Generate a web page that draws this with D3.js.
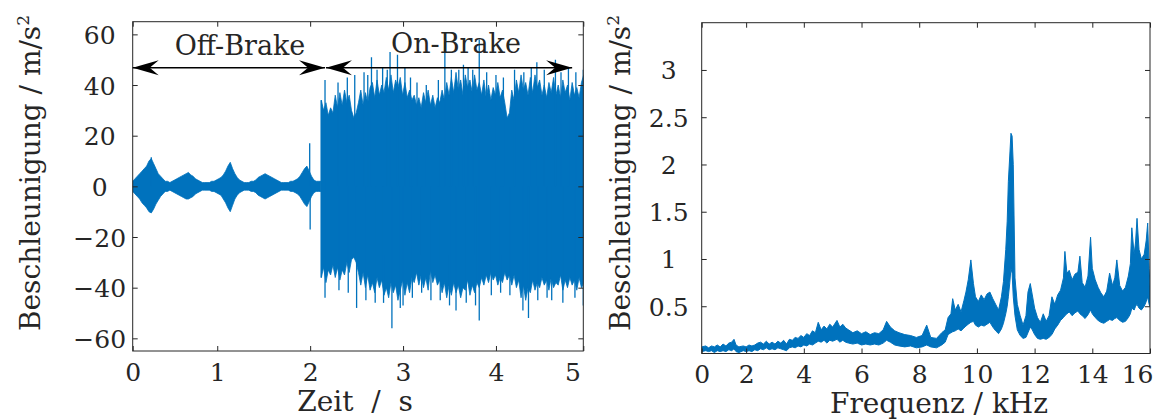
<!DOCTYPE html>
<html>
<head>
<meta charset="utf-8">
<script src="https://cdn.jsdelivr.net/npm/d3@7"></script>
<style>
  html, body { margin: 0; padding: 0; background: #fff; }
  svg { display: block; font-family: "DejaVu Serif", serif; }
</style>
</head>
<body>
<div id="chart"></div>
<script>
// ------- time signal (left) -------
const timeTicks  = [0.09, 1, 2, 3, 4, 4.94];
const accelTicks = [-60, -40, -20, 0, 20, 40, 60];

// off-brake envelope, sampled every 0.025 s from 0.09 s
const offStart = 0.09, offStep = 0.025;
const offHi = [2,3,4,5,6,7,8,10, 11,9,7,5,4,3,2,2, 1.5,2,2.5,3,3.5,4,4.5,5,
  5.5,4.5,4,3,2.5,2,1.5,1.5, 1.5,1.5,2,2,2.5,3,3.5,4.5, 6,8,9.5,7,5,3.5,2.5,2,
  1.5,1.5,1.5,2,2,2.5,3.5,4, 4.5,5,4.5,4,3.5,3,2.5,2, 1.5,1.5,1.5,1.5,2,2,2.5,3,
  4,5.5,7,8,6,4,2.5,2, 2,2];
const offLo = [-2,-3,-4,-5,-6.5,-7.5,-8.5,-10, -10.5,-9,-7,-5.5,-4,-3,-2,-2,
  -1.5,-2,-2.5,-3,-3.5,-4,-4.5,-5, -5,-4.5,-4,-3,-2.5,-2,-1.5,-1.5,
  -1.5,-1.5,-2,-2,-2.5,-3,-3.5,-5, -6.5,-8.5,-10,-7.5,-5,-3.5,-2.5,-2,
  -1.5,-1.5,-1.5,-2,-2,-2.5,-3.5,-4, -4.5,-5,-4.5,-4,-3.5,-3,-2.5,-2,
  -1.5,-1.5,-1.5,-1.5,-2,-2,-2.5,-3, -4,-5.5,-7,-8,-6,-4,-2.5,-2, -2,-2];

// on-brake envelope, sampled every 0.025 s from 2.12 s
const onStart = 2.12, onStep = 0.025;
const onHi = [34,30,33,28,31,29, 36,31,37,32,38,33,36,30, 27,29,33, 38,32,37,33,39,
  41,35,42,36,40,37, 43,38,44,37,42,39, 43,36,41,35,38,34,
  36,32,35,31,37,33,38,32,36,31,35,33, 38,34,41,36,
  43,37,45,38,42,36,44,39,42,37,44,38, 41,36,42,35,40,34,39,36,41,35,38,33,27, 29,
  38,34,42,37,44,38,41,36,43,37,44,39,
  42,36,40,35,41,37,43,36,40,35,42,37,40,34,41,36,39,35,41,44];
const onLo = [-36,-32,-38,-33,-35,-31, -36,-32,-37,-33,-35,-30,-34,-29, -28,-30,-34,
  -39,-34,-40,-35,-41, -38,-42,-36,-40,-37,-43, -40,-44,-38,-42,-39,-45,
  -41,-37,-43,-38,-42,-36, -38,-34,-39,-35,-40,-36,-41,-33,-38,-35,-39,-37,
  -42,-38,-44,-39, -43,-38,-42,-39,-44,-40,-41,-37,-43,-39,-42,-38,
  -40,-36,-39,-35,-38,-34,-37,-35,-39,-36,-38,-34,-37, -35,
  -39,-35,-40,-37,-44,-39,-45,-40,-42,-37,-41,-38,
  -40,-36,-39,-37,-41,-36,-40,-38,-39,-35,-41,-37,-40,-36,-39,-37,-41,-36,-40,-38];

// single peaks standing out of the band
const spikeTime = [0.29, 1.995, 2.0, 2.16, 2.16, 2.48, 2.5, 2.66, 2.7, 2.72, 2.86, 2.88, 2.94,
  3.0, 3.02, 3.3, 3.45, 3.57, 3.6, 3.7, 3.82, 3.82, 4.29, 4.3, 4.35, 4.44, 4.6, 4.64, 4.94, 4.94,
  2.3, 2.4, 2.58, 2.62, 2.78, 2.83, 3.08, 3.15, 3.25, 3.38, 3.52, 3.65, 3.75, 3.9, 4.0, 4.08,
  4.2, 4.38, 4.52, 4.7, 4.78, 4.86,
  2.31, 2.41, 2.6, 2.79, 2.97, 3.1, 3.2, 3.4, 3.5, 3.68, 3.78, 3.95, 4.05, 4.15, 4.45, 4.55,
  4.72, 4.85];
const spikeVal  = [11.5, 17, -17, 42, -44, 44, -48, 51, -46, 46, 53, -56, 52,
  -47, 47, -45, 57, -49, 46, 47, 58, -53, -49, 45, -52, 49, -45, 50, 46, -47,
  41, 43, 45, 44, 47, 46, 43, 41, 40, 42, 46, 48, 46, 45, 44, 43,
  46, 47, 46, 45, 47, 45,
  -41, -42, -45, -46, -48, -44, -42, -45, -47, -46, -47, -43, -42, -43, -45, -44,
  -46, -44];

const annotations = [
  { from: 0.09, to: 2.16, y: 46.8, label: 'Off-Brake', tx: 1.245, ty: 51.8 },
  { from: 2.17, to: 4.82, y: 46.8, label: 'On-Brake',  tx: 3.57,  ty: 52.5 },
];

// ------- spectrum (right) -------
const freqTicks = [0.46, 2, 4, 6, 8, 10, 12, 14, 16];
const ampTicks  = [0.5, 1, 1.5, 2, 2.5, 3];

const specFreq = [0.46,0.6,0.7,0.8,0.9,1.0,1.1,1.2,1.3,1.4,1.5,1.58,1.65,1.75,1.9,2.0,
  2.1,2.2,2.3,2.4,2.5,2.6,2.7,2.8,2.9,3.0,3.1,3.2,3.3,3.4,3.5,3.6,3.7,3.8,3.9,4.0,
  4.1,4.2,4.3,4.4,4.5,4.6,4.7,4.8,4.9,5.0,5.15,5.25,5.35,5.45,5.55,5.7,5.85,6.0,
  6.15,6.3,6.45,6.6,6.75,6.87,7.0,7.15,7.3,7.5,7.7,7.9,8.1,8.26,8.4,8.6,8.78,8.9,
  9.0,9.1,9.16,9.25,9.35,9.45,9.55,9.62,9.7,9.79,9.88,9.95,10.05,10.15,10.25,10.35,
  10.45,10.55,10.65,10.75,10.85,10.92,11.0,11.05,11.09,11.14,11.18,11.22,11.26,11.32,
  11.4,11.5,11.6,11.7,11.77,11.85,11.92,12.0,12.1,12.2,12.3,12.4,12.5,12.6,12.7,12.8,
  12.9,13.0,13.05,13.12,13.2,13.3,13.4,13.5,13.57,13.65,13.75,13.85,13.94,14.0,14.1,
  14.2,14.3,14.4,14.5,14.6,14.7,14.78,14.85,14.95,15.05,15.15,15.25,15.32,15.37,15.45,
  15.5,15.55,15.62,15.7,15.8,15.87,15.92,15.97,16.0];
const specLow = [0.02,0.03,0.02,0.03,0.01,0.03,0.02,0.03,0.02,0.04,0.03,0.05,0.02,0.01,0.03,0.02,
  0.03,0.02,0.04,0.03,0.05,0.04,0.06,0.04,0.05,0.04,0.06,0.05,0.04,0.03,0.06,0.07,0.06,0.08,0.07,0.09,
  0.08,0.10,0.09,0.11,0.13,0.12,0.14,0.11,0.14,0.13,0.15,0.12,0.14,0.12,0.11,0.10,0.11,0.09,
  0.10,0.09,0.10,0.09,0.11,0.14,0.12,0.09,0.08,0.07,0.08,0.06,0.07,0.09,0.07,0.06,0.09,0.12,
  0.20,0.22,0.23,0.24,0.26,0.24,0.27,0.29,0.31,0.33,0.34,0.30,0.28,0.30,0.29,0.31,
  0.33,0.28,0.24,0.21,0.26,0.32,0.42,0.50,0.60,0.75,0.90,0.85,0.60,0.40,
  0.25,0.19,0.16,0.17,0.22,0.28,0.25,0.20,0.16,0.15,0.16,0.15,0.17,0.20,0.26,0.30,
  0.35,0.38,0.40,0.42,0.44,0.40,0.43,0.45,0.42,0.40,0.37,0.41,0.46,0.42,0.38,
  0.35,0.33,0.32,0.34,0.36,0.35,0.37,0.38,0.35,0.33,0.34,0.38,0.42,0.48,0.46,
  0.50,0.52,0.48,0.46,0.50,0.55,0.60,0.52,0.50];
const specHigh = [0.07,0.08,0.06,0.08,0.07,0.09,0.07,0.10,0.08,0.11,0.12,0.15,0.09,0.07,0.08,0.07,
  0.09,0.08,0.09,0.11,0.12,0.10,0.13,0.10,0.12,0.10,0.13,0.11,0.14,0.10,0.15,0.14,0.17,0.16,0.19,0.17,
  0.21,0.19,0.24,0.22,0.33,0.25,0.29,0.26,0.31,0.28,0.35,0.28,0.31,0.27,0.25,0.22,0.24,0.21,
  0.23,0.20,0.22,0.21,0.25,0.34,0.28,0.24,0.22,0.20,0.19,0.17,0.19,0.30,0.17,0.16,0.22,0.25,
  0.38,0.42,0.58,0.46,0.52,0.44,0.56,0.65,0.78,0.99,0.74,0.60,0.55,0.62,0.57,0.63,
  0.65,0.58,0.52,0.46,0.60,0.76,1.10,1.40,1.82,2.10,2.33,2.30,2.00,0.80,
  0.52,0.40,0.30,0.40,0.65,0.74,0.62,0.48,0.38,0.33,0.42,0.34,0.40,0.60,0.52,0.62,
  0.67,0.80,1.08,0.85,0.88,0.78,0.84,0.86,1.03,0.75,0.70,0.82,1.23,0.90,0.78,
  0.70,0.64,0.60,0.66,0.85,0.72,0.80,0.99,0.72,0.66,0.70,0.82,0.95,1.33,1.05,
  1.18,1.43,1.10,1.00,1.05,1.20,1.38,0.90,0.71];

// ------- drawing -------
const COLOR = '#0072BD', INK = '#262626';
const W = 1158, H = 419;

const svg = d3.select('#chart').append('svg')
  .attr('width', W).attr('height', H)
  .attr('viewBox', `0 0 ${W} ${H}`);

const fmt0 = d3.format('.0f');
const minus = v => (v < 0 ? '\u2212' + Math.abs(v) : String(v));

function drawFrame(g, x, y, xt, yt, xFmt, yFmt, lastDx) {
  const [l, r] = x.range(), [b, t] = y.range();
  const axisStyle = sel => {
    sel.attr('font-family', null).attr('font-size', null);
    sel.select('.domain').remove();
    sel.selectAll('line').attr('stroke', INK);
    sel.selectAll('text').attr('fill', INK).style('font-size', '25px');
  };
  g.append('g').attr('transform', `translate(0,${b})`)
    .call(d3.axisBottom(x).tickValues(xt).tickFormat(xFmt).tickSize(-5).tickPadding(12))
    .call(axisStyle)
    .call(sel => sel.selectAll('.tick').filter((d, i) => i === xt.length - 1)
      .select('text').attr('text-anchor', 'end').attr('dx', lastDx));
  g.append('g').attr('transform', `translate(0,${t})`)
    .call(d3.axisTop(x).tickValues(xt).tickFormat('').tickSize(-5))
    .call(axisStyle);
  g.append('g').attr('transform', `translate(${l},0)`)
    .call(d3.axisLeft(y).tickValues(yt).tickFormat(yFmt).tickSize(-5))
    .call(axisStyle)
    .call(sel => sel.selectAll('text').attr('text-anchor', 'middle').attr('x', -33).attr('dy', '0.36em'));
  g.append('g').attr('transform', `translate(${r},0)`)
    .call(d3.axisRight(y).tickValues(yt).tickFormat('').tickSize(-5))
    .call(axisStyle);
  g.append('rect')
    .attr('x', l).attr('y', t).attr('width', r - l).attr('height', b - t)
    .attr('fill', 'none').attr('stroke', INK).attr('stroke-width', 1);
}

function yLabel(x, y) {
  const tx = svg.append('text')
    .attr('transform', `translate(${x},${y}) rotate(-90)`)
    .attr('text-anchor', 'middle')
    .attr('fill', INK).style('font-size', '28px');
  tx.append('tspan').text('Beschleunigung / m/s');
  tx.append('tspan').attr('dy', -11).style('font-size', '17px').text('2');
}

// ---- left panel ----
const xT = d3.scaleLinear().domain([0.09, 4.94]).range([132.7, 583.3]);
const yA = d3.scaleLinear().domain([-65, 65]).range([351, 21.7]);

svg.append('clipPath').attr('id', 'clipL').append('rect')
  .attr('x', 132.7).attr('y', 21.7).attr('width', 583.3 - 132.7).attr('height', 351 - 21.7);

const left = svg.append('g');
const sigL = left.append('g').attr('clip-path', 'url(#clipL)');

const offData = offHi.map((v, i) => ({ t: offStart + i * offStep, hi: v, lo: offLo[i] }));
const onData  = onHi.map((v, i) => ({ t: onStart + i * onStep, hi: v, lo: onLo[i] }));

const band = d3.area().x(d => xT(d.t)).y0(d => yA(d.lo)).y1(d => yA(d.hi));
[offData, onData].forEach(data => {
  sigL.append('path').datum(data).attr('d', band)
    .attr('fill', COLOR).attr('stroke', COLOR).attr('stroke-width', 0.8);
});
sigL.append('line')
  .attr('x1', xT(onStart)).attr('x2', xT(onStart))
  .attr('y1', yA(onLo[0])).attr('y2', yA(onHi[0]))
  .attr('stroke', COLOR).attr('stroke-width', 1.5);

sigL.selectAll('line.spike')
  .data(spikeTime.map((t, i) => ({ t, v: spikeVal[i] })))
  .join('line').attr('class', 'spike')
  .attr('x1', d => xT(d.t)).attr('x2', d => xT(d.t))
  .attr('y1', yA(0)).attr('y2', d => yA(d.v))
  .attr('stroke', COLOR).attr('stroke-width', 1.3);

drawFrame(left, xT, yA, timeTicks, accelTicks, fmt0, minus, -3);

// annotations with double arrows
function arrowHead(xTip, y, dir) {
  const L = 26, w = 7.5, notch = 9;
  return `M${xTip},${y}L${xTip - dir * L},${y - w}L${xTip - dir * (L - notch)},${y}L${xTip - dir * L},${y + w}Z`;
}
annotations.forEach(a => {
  const y = yA(a.y), x0 = xT(a.from), x1 = xT(a.to);
  left.append('line').attr('x1', x0).attr('x2', x1).attr('y1', y).attr('y2', y)
    .attr('stroke', '#000').attr('stroke-width', 1.5);
  left.append('path').attr('d', arrowHead(x0, y, -1)).attr('fill', '#000');
  left.append('path').attr('d', arrowHead(x1, y, 1)).attr('fill', '#000');
  left.append('text').attr('x', xT(a.tx)).attr('y', yA(a.ty))
    .attr('text-anchor', 'middle').attr('fill', INK)
    .style('font-size', '27px').text(a.label);
});

svg.append('text').attr('x', 355).attr('y', 411)
  .attr('text-anchor', 'middle').attr('fill', INK)
  .style('font-size', '28px').style('white-space', 'pre')
  .text('Zeit  /  s');
yLabel(40, 173);

// ---- right panel ----
const xF = d3.scaleLinear().domain([0.46, 16]).range([701.7, 1150]);
const yS = d3.scaleLinear().domain([0, 3.5]).range([353.5, 22.7]);

svg.append('clipPath').attr('id', 'clipR').append('rect')
  .attr('x', 701.7).attr('y', 22.7).attr('width', 1150 - 701.7).attr('height', 353.5 - 22.7);

const right = svg.append('g');
const specData = specFreq.map((f, i) => ({ f, lo: specLow[i], hi: specHigh[i] }));
right.append('g').attr('clip-path', 'url(#clipR)')
  .append('path').datum(specData)
  .attr('d', d3.area().x(d => xF(d.f)).y0(d => yS(d.lo)).y1(d => yS(d.hi)))
  .attr('fill', COLOR).attr('stroke', COLOR).attr('stroke-width', 1);

drawFrame(right, xF, yS, freqTicks, ampTicks, fmt0, d => String(d), 3);

svg.append('text').attr('x', 939).attr('y', 413)
  .attr('text-anchor', 'middle').attr('fill', INK)
  .style('font-size', '28px')
  .text('Frequenz / kHz');
yLabel(630, 173);
</script>
</body>
</html>
